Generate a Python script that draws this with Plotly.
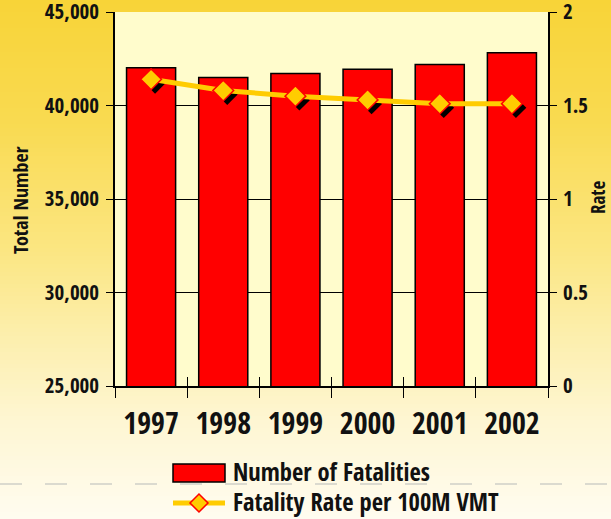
import plotly.graph_objects as go

# ---------------- data ----------------
years = ["1997", "1998", "1999", "2000", "2001", "2002"]
fatalities = [42013, 41501, 41717, 41945, 42196, 42815]
rate = [1.64, 1.58, 1.55, 1.53, 1.51, 1.51]
left_ticks = [25000, 30000, 35000, 40000, 45000]
right_ticks = [0, 0.5, 1, 1.5, 2]
bar_name = "Number of Fatalities"
line_name = "Fatality Rate per 100M VMT"
left_title = "Total Number"
right_title = "Rate"

# ---------------- geometry ----------------
W, H = 611, 519
L, R, T, B = 115, 63, 12, 133
PW, PH = W - L - R, H - T - B
FONT = "Open Sans Condensed, Roboto Condensed, Liberation Sans, sans-serif"
INK = "#111111"


def px_x(px):
    return (px - L) / PW


def px_y(py):
    return (H - B - py) / PH


# shadow offset (pixels) expressed in axis units
SHX, SHY = 4, 4
x_shift = SHX * len(years) / PW
y_shift = SHY * (right_ticks[-1] - right_ticks[0]) / PH

fig = go.Figure()
fig.add_trace(go.Bar(
    x=years, y=fatalities, width=0.68, name=bar_name,
    marker=dict(color="#FF0000", line=dict(color="#000000", width=1.5)),
    xaxis="x", yaxis="y", showlegend=False))
fig.add_trace(go.Scatter(
    x=years, y=rate, mode="markers", name="shadow",
    marker=dict(symbol="diamond", size=16, color="#000000"),
    xaxis="x2", yaxis="y3", showlegend=False, hoverinfo="skip"))
fig.add_trace(go.Scatter(
    x=years, y=rate, mode="lines+markers", name=line_name,
    line=dict(color="#FFCC00", width=5),
    marker=dict(symbol="diamond", size=16, color="#FFCC00",
                line=dict(color="#FF0000", width=1.5)),
    xaxis="x3", yaxis="y2", showlegend=False))

# ---------------- background gradient ----------------
stops = [(0, (248, 212, 56)), (120, (249, 218, 80)), (250, (251, 230, 130)),
         (330, (252, 238, 170)), (420, (254, 246, 210)), (519, (255, 252, 240))]


def grad(py):
    for (a, ca), (b, cb) in zip(stops[:-1], stops[1:]):
        if a <= py <= b:
            t = (py - a) / (b - a)
            return "rgb(%d,%d,%d)" % tuple(round(ca[i] + (cb[i] - ca[i]) * t) for i in range(3))
    return "rgb(%d,%d,%d)" % stops[-1][1]


shapes = []
step = 4
for py in range(0, H, step):
    shapes.append(dict(type="rect", xref="paper", yref="paper", layer="below",
                       x0=px_x(-2), x1=px_x(W + 2), y0=px_y(py + step + 0.5), y1=px_y(py),
                       fillcolor=grad(py + step / 2), line=dict(width=0)))
# plot area
shapes.append(dict(type="rect", xref="paper", yref="paper", layer="below",
                   x0=0, x1=1, y0=0, y1=1, fillcolor="#FFFCCC", line=dict(width=0)))
# dashed separator line
shapes.append(dict(type="line", xref="paper", yref="paper", layer="below",
                   x0=px_x(0), x1=px_x(W), y0=px_y(484), y1=px_y(484),
                   line=dict(color="#CFCFC8", width=1.5, dash="22px,23px")))
# legend symbols
shapes.append(dict(type="rect", xref="paper", yref="paper",
                   x0=px_x(173), x1=px_x(225), y0=px_y(482), y1=px_y(464),
                   fillcolor="#FF0000", line=dict(color="#000000", width=1.5)))
shapes.append(dict(type="line", xref="paper", yref="paper",
                   x0=px_x(173), x1=px_x(225), y0=px_y(503), y1=px_y(503),
                   line=dict(color="#FFCC00", width=5)))
cx, cy, hw = 199, 503, 9
shapes.append(dict(type="path", xref="paper", yref="paper",
                   path="M %f,%f L %f,%f L %f,%f L %f,%f Z" % (
                       px_x(cx - hw), px_y(cy), px_x(cx), px_y(cy - hw),
                       px_x(cx + hw), px_y(cy), px_x(cx), px_y(cy + hw)),
                   fillcolor="#FFCC00", line=dict(color="#FF0000", width=1.5)))

annotations = [
    dict(text=left_title, xref="paper", yref="paper", x=px_x(20), y=px_y(200),
         textangle=-90, showarrow=False, xanchor="center", yanchor="middle",
         font=dict(family=FONT, size=20, color=INK, weight="bold")),
    dict(text=right_title, xref="paper", yref="paper", x=px_x(598), y=px_y(197),
         textangle=-90, showarrow=False, xanchor="center", yanchor="middle",
         font=dict(family=FONT, size=19, color=INK, weight="bold")),
    dict(text=bar_name, xref="paper", yref="paper", x=px_x(231), y=px_y(471),
         showarrow=False, xanchor="left", yanchor="middle",
         font=dict(family=FONT, size=24.5, color=INK, weight="bold")),
    dict(text=line_name, xref="paper", yref="paper", x=px_x(231), y=px_y(502),
         showarrow=False, xanchor="left", yanchor="middle",
         font=dict(family=FONT, size=24.5, color=INK, weight="bold")),
]

tickfont = dict(family=FONT, size=21, color=INK, weight="bold")

fig.update_layout(
    width=W, height=H,
    margin=dict(l=L, r=R, t=T, b=B, pad=0),
    paper_bgcolor="#FFFDF0",
    plot_bgcolor="rgba(0,0,0,0)",
    shapes=shapes, annotations=annotations,
    showlegend=False,
    xaxis=dict(type="category", categoryorder="array", categoryarray=years,
               range=[-0.5, len(years) - 0.5], showgrid=False, zeroline=False,
               showline=True, linecolor="#000000", linewidth=1.5,
               ticks="outside", tickson="boundaries", ticklen=10, tickcolor="#000000",
               tickwidth=1, ticklabelstandoff=10, automargin=False,
               tickfont=dict(family=FONT, size=30, color=INK, weight="bold")),
    xaxis2=dict(type="category", categoryorder="array", categoryarray=years,
                overlaying="x", range=[-0.5 - x_shift, len(years) - 0.5 - x_shift],
                visible=False),
    xaxis3=dict(type="category", categoryorder="array", categoryarray=years,
                overlaying="x", range=[-0.5, len(years) - 0.5], visible=True,
                showticklabels=False, showline=False, showgrid=False, zeroline=False,
                ticks="inside", tickson="boundaries", ticklen=9, tickcolor="#000000",
                tickwidth=1, automargin=False),
    yaxis=dict(range=[left_ticks[0], left_ticks[-1]], tickvals=left_ticks,
               tickformat=",", showgrid=True, gridcolor="#000000", gridwidth=1,
               zeroline=False, showline=True, linecolor="#000000", linewidth=1.5,
               ticks="outside", ticklen=7, tickcolor="#000000", tickfont=tickfont,
               ticklabelstandoff=3, ticklabeloverflow="allow", automargin=False),
    yaxis2=dict(range=[right_ticks[0], right_ticks[-1]], tickvals=right_ticks,
                overlaying="y", side="right", showgrid=False, zeroline=False,
                showline=True, linecolor="#000000", linewidth=1.5,
                ticks="outside", ticklen=7, tickcolor="#000000", tickfont=tickfont,
                ticklabelstandoff=2, ticklabeloverflow="allow", automargin=False),
    yaxis3=dict(range=[right_ticks[0] + y_shift, right_ticks[-1] + y_shift],
                overlaying="y", visible=False),
)

fig.write_html("out.html", config={"displayModeBar": False},
               post_script="document.body.style.margin='0';")
